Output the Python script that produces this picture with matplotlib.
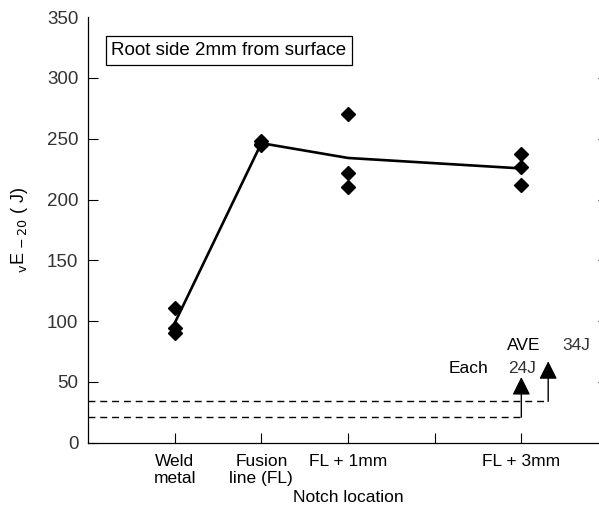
import numpy as np
import matplotlib.pyplot as plt

plt.rcParams['font.family'] = ['Liberation Sans', 'DejaVu Sans']

# --- data ---
locations = [1, 2, 3, 5]
loc_labels = ['Weld\nmetal', 'Fusion\nline (FL)', 'FL + 1mm', '', 'FL + 3mm']
weld = [111, 94, 90]
fusion = [248, 246, 245]
fl1 = [270.5, 221.6, 210.4]
fl3 = [237.7, 227, 212]
samples = [weld, fusion, fl1, fl3]
averages = [np.mean(s) for s in samples]

each_req = 21     # drawn level of the "Each 24J" line
ave_req = 34      # drawn level of the "AVE 34J" line
each_x = 5
ave_x = 5.31

fig = plt.figure(figsize=(5.99, 5.14), dpi=100)
ax = fig.add_axes([0.147, 0.1387, 0.868, 0.828])

# averages line
ax.plot(locations, averages, color='black', linewidth=1.9, zorder=3)
# individual specimens
for x, s in zip(locations, samples):
    ax.plot([x] * len(s), s, linestyle='none', marker='D', markersize=7.5,
            color='black', zorder=4)

# requirement lines
ax.plot([0, each_x], [each_req, each_req], color='black', linestyle=(0, (5, 3.5)), linewidth=1.0)
ax.plot([0, ave_x], [ave_req, ave_req], color='black', linestyle=(0, (5, 3.5)), linewidth=1.0)
head = '-|>,head_length=1.1,head_width=0.55'
ax.annotate('', xy=(each_x, 54), xytext=(each_x, each_req),
            arrowprops=dict(arrowstyle=head, color='black', lw=1.0, shrinkA=0, shrinkB=0))
ax.annotate('', xy=(ave_x, 67), xytext=(ave_x, ave_req),
            arrowprops=dict(arrowstyle=head, color='black', lw=1.0, shrinkA=0, shrinkB=0))

ax.text(4.84, 80, 'AVE', fontsize=12.5, va='center', ha='left')
ax.text(5.475, 80, '34J', fontsize=12.5, va='center', ha='left', color='#333333')
ax.text(4.16, 61, 'Each', fontsize=12.5, va='center', ha='left')
ax.text(4.85, 61, '24J', fontsize=12.5, va='center', ha='left', color='#333333')

ax.text(0.268, 322.5, 'Root side 2mm from surface', fontsize=13.5, va='center', ha='left',
        bbox=dict(boxstyle='square,pad=0.3', facecolor='white', edgecolor='black', linewidth=0.9))

ax.set_xlim(0, 6)
ax.set_ylim(0, 350)
ax.set_xticks([1, 2, 3, 4, 5])
ax.set_xticklabels(loc_labels, fontsize=12.5)
ax.set_yticks(np.arange(0, 351, 50))
ax.tick_params(axis='y', direction='in', length=7.5, width=0.8, labelsize=13.5,
               pad=7, left=True, right=True, labelcolor='#333333')
ax.tick_params(axis='x', direction='in', length=7.5, width=0.8, pad=8)
ax.yaxis.get_major_ticks()[-1].tick1line.set_visible(False)
ax.yaxis.get_major_ticks()[-1].tick2line.set_visible(False)

for side in ['top', 'right']:
    ax.spines[side].set_visible(False)
for side in ['left', 'bottom']:
    ax.spines[side].set_linewidth(0.9)

ax.set_xlabel('Notch location', fontsize=12.5, labelpad=3)
ax.set_ylabel(r'$_{\rm v}$E$_{\rm \,-20}$ ( J)', fontsize=13)
ax.yaxis.set_label_coords(-0.112, 0.5)

fig.savefig('out.png', dpi=100)
